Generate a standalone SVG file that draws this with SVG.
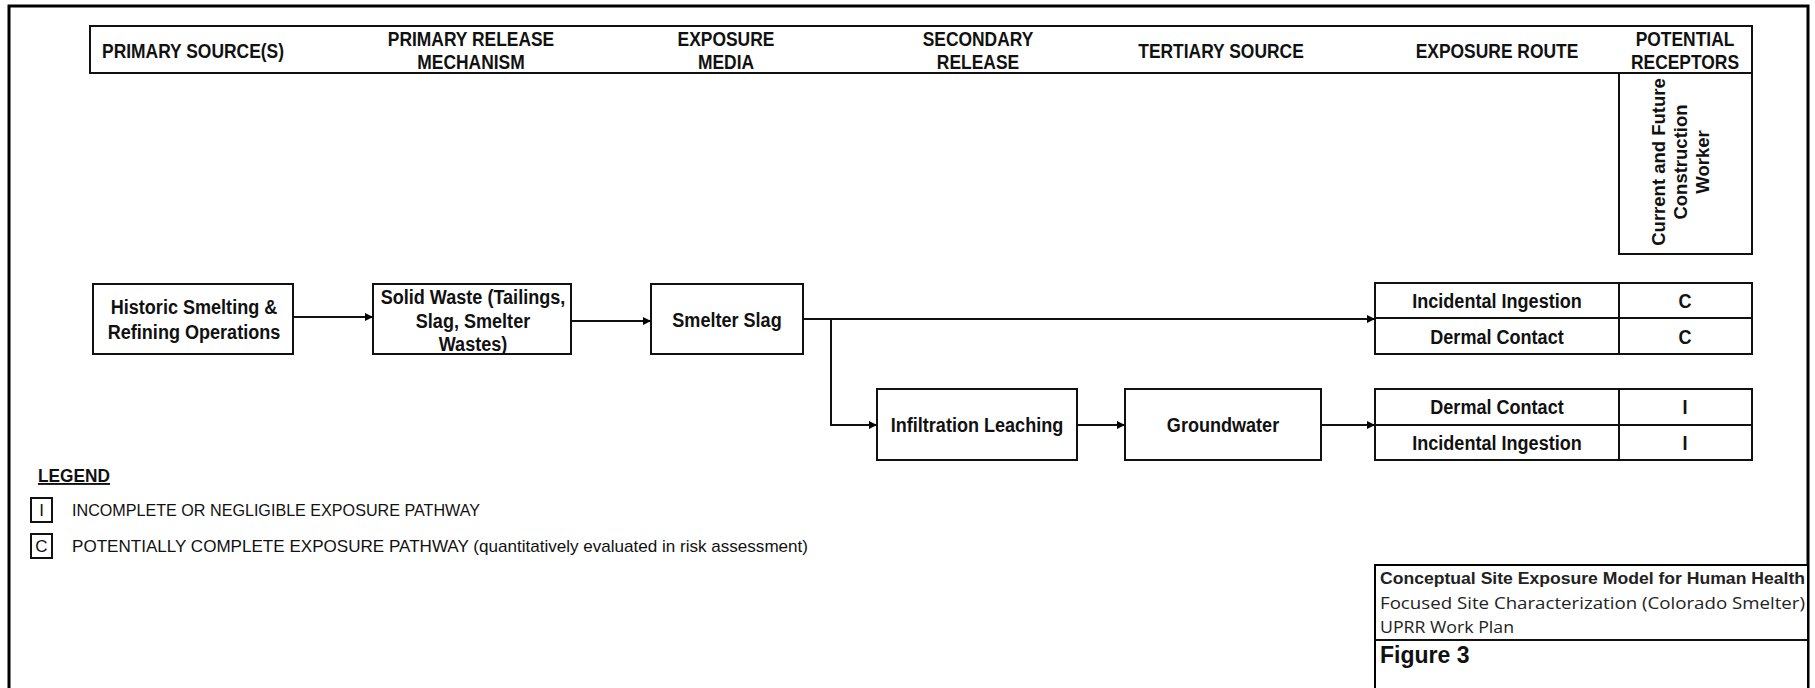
<svg xmlns="http://www.w3.org/2000/svg" width="1815" height="688" viewBox="0 0 1815 688">
<defs>
<marker id="ah" viewBox="0 0 10 10" refX="10" refY="5" markerWidth="9" markerHeight="8" markerUnits="userSpaceOnUse" orient="auto"><path d="M0,0 L10,5 L0,10 z" fill="#000"/></marker>
<style>
.box{fill:#fff;stroke:#111;stroke-width:2}
.ln{fill:none;stroke:#111;stroke-width:2}
.hd{font-family:"Liberation Sans",Arial,sans-serif;font-weight:bold;font-size:20.5px;fill:#111;text-anchor:middle}
.nb{font-family:"Liberation Sans",Arial,sans-serif;font-weight:bold;font-size:21px;fill:#111;text-anchor:middle}
.rt{font-family:"Liberation Sans",Arial,sans-serif;font-weight:bold;font-size:18.5px;fill:#111;text-anchor:middle}
.lg{font-family:"Liberation Sans",Arial,sans-serif;font-size:17px;fill:#111}
.lgb{font-family:"Liberation Sans",Arial,sans-serif;font-size:19px;font-weight:bold;fill:#111;text-decoration:underline}
.tb{font-family:"Liberation Sans",Arial,sans-serif;font-size:17px;font-weight:bold;fill:#222}
.tr{font-family:"Open Sans","Liberation Sans",sans-serif;font-size:17px;fill:#222}
.fig{font-family:"Liberation Sans",Arial,sans-serif;font-size:23px;font-weight:bold;fill:#111}
</style>
</defs>
<rect x="9" y="6" width="1799" height="710" fill="#fff" stroke="#000" stroke-width="3"/>

<g id="header">
<rect class="box" x="90" y="26" width="1662" height="47"/>
<text class="hd" transform="translate(193,58) scale(0.85,1)">PRIMARY SOURCE(S)</text>
<text class="hd" transform="translate(471,46) scale(0.85,1)">PRIMARY RELEASE</text>
<text class="hd" transform="translate(471,69) scale(0.85,1)">MECHANISM</text>
<text class="hd" transform="translate(726,46) scale(0.85,1)">EXPOSURE</text>
<text class="hd" transform="translate(726,69) scale(0.85,1)">MEDIA</text>
<text class="hd" transform="translate(978,46) scale(0.85,1)">SECONDARY</text>
<text class="hd" transform="translate(978,69) scale(0.85,1)">RELEASE</text>
<text class="hd" transform="translate(1221,58) scale(0.85,1)">TERTIARY SOURCE</text>
<text class="hd" transform="translate(1497,58) scale(0.85,1)">EXPOSURE ROUTE</text>
<text class="hd" transform="translate(1685,46) scale(0.85,1)">POTENTIAL</text>
<text class="hd" transform="translate(1685,69) scale(0.85,1)">RECEPTORS</text>
</g>

<g id="receptor">
<rect class="box" x="1619" y="73" width="133" height="181"/>
<text class="rt" transform="translate(1665,162) rotate(-90)">Current and Future</text>
<text class="rt" transform="translate(1687,162) rotate(-90)">Construction</text>
<text class="rt" transform="translate(1709,162) rotate(-90)">Worker</text>
</g>

<g id="historic">
<rect class="box" x="93" y="284" width="200" height="70"/>
<text class="nb" transform="translate(194,314) scale(0.86,1)">Historic Smelting &amp;</text>
<text class="nb" transform="translate(194,339) scale(0.86,1)">Refining Operations</text>
</g>
<g id="solidwaste">
<rect class="box" x="373" y="284" width="198" height="70"/>
<text class="nb" transform="translate(473,304) scale(0.86,1)">Solid Waste (Tailings,</text>
<text class="nb" transform="translate(473,328) scale(0.86,1)">Slag, Smelter</text>
<text class="nb" transform="translate(473,351) scale(0.86,1)">Wastes)</text>
</g>
<g id="smelterslag">
<rect class="box" x="651" y="284" width="152" height="70"/>
<text class="nb" transform="translate(727,327) scale(0.86,1)">Smelter Slag</text>
</g>
<g id="infiltration">
<rect class="box" x="877" y="389" width="200" height="71"/>
<text class="nb" transform="translate(977,432) scale(0.86,1)">Infiltration Leaching</text>
</g>
<g id="groundwater">
<rect class="box" x="1125" y="389" width="196" height="71"/>
<text class="nb" transform="translate(1223,432) scale(0.86,1)">Groundwater</text>
</g>
<g id="table1">
<rect class="box" x="1375" y="283" width="377" height="71"/>
<line class="ln" x1="1375" y1="318" x2="1752" y2="318"/>
<line class="ln" x1="1619" y1="283" x2="1619" y2="354"/>
<text class="nb" transform="translate(1497,308) scale(0.86,1)">Incidental Ingestion</text>
<text class="nb" transform="translate(1497,344) scale(0.86,1)">Dermal Contact</text>
<text class="nb" transform="translate(1685,308) scale(0.86,1)">C</text>
<text class="nb" transform="translate(1685,344) scale(0.86,1)">C</text>
</g>
<g id="table2">
<rect class="box" x="1375" y="389" width="377" height="71"/>
<line class="ln" x1="1375" y1="425" x2="1752" y2="425"/>
<line class="ln" x1="1619" y1="389" x2="1619" y2="460"/>
<text class="nb" transform="translate(1497,414) scale(0.86,1)">Dermal Contact</text>
<text class="nb" transform="translate(1497,450) scale(0.86,1)">Incidental Ingestion</text>
<text class="nb" transform="translate(1685,414) scale(0.86,1)">I</text>
<text class="nb" transform="translate(1685,450) scale(0.86,1)">I</text>
</g>

<g id="connectors">
<line class="ln" x1="293" y1="317" x2="373" y2="317" marker-end="url(#ah)"/>
<line class="ln" x1="571" y1="321" x2="651" y2="321" marker-end="url(#ah)"/>
<line class="ln" x1="803" y1="319" x2="1375" y2="319" marker-end="url(#ah)"/>
<polyline class="ln" points="831,319 831,425 877,425" marker-end="url(#ah)"/>
<line class="ln" x1="1077" y1="425" x2="1125" y2="425" marker-end="url(#ah)"/>
<line class="ln" x1="1321" y1="425" x2="1375" y2="425" marker-end="url(#ah)"/>
</g>

<g id="legend">
<text class="lgb" x="38" y="482" textLength="72" lengthAdjust="spacingAndGlyphs">LEGEND</text>
<rect class="box" x="31" y="498" width="21" height="24" stroke-width="1.5"/>
<text class="lg" x="41.5" y="516" text-anchor="middle">I</text>
<text class="lg" x="72" y="516" textLength="408" lengthAdjust="spacingAndGlyphs">INCOMPLETE OR NEGLIGIBLE EXPOSURE PATHWAY</text>
<rect class="box" x="31" y="534" width="21" height="24" stroke-width="1.5"/>
<text class="lg" x="41.5" y="552" text-anchor="middle">C</text>
<text class="lg" x="72" y="552" textLength="736" lengthAdjust="spacingAndGlyphs">POTENTIALLY COMPLETE EXPOSURE PATHWAY (quantitatively evaluated in risk assessment)</text>
</g>

<g id="titleblock">
<rect x="1375" y="565" width="433" height="140" fill="#fff" stroke="#000" stroke-width="2"/>
<line class="ln" x1="1375" y1="640" x2="1808" y2="640"/>
<text class="tb" x="1380" y="584" textLength="425" lengthAdjust="spacingAndGlyphs">Conceptual Site Exposure Model for Human Health</text>
<text class="tr" x="1380" y="609" textLength="425" lengthAdjust="spacingAndGlyphs">Focused Site Characterization (Colorado Smelter)</text>
<text class="tr" x="1380" y="633" textLength="134" lengthAdjust="spacingAndGlyphs">UPRR Work Plan</text>
<text class="fig" x="1380" y="663">Figure 3</text>
</g>
</svg>
